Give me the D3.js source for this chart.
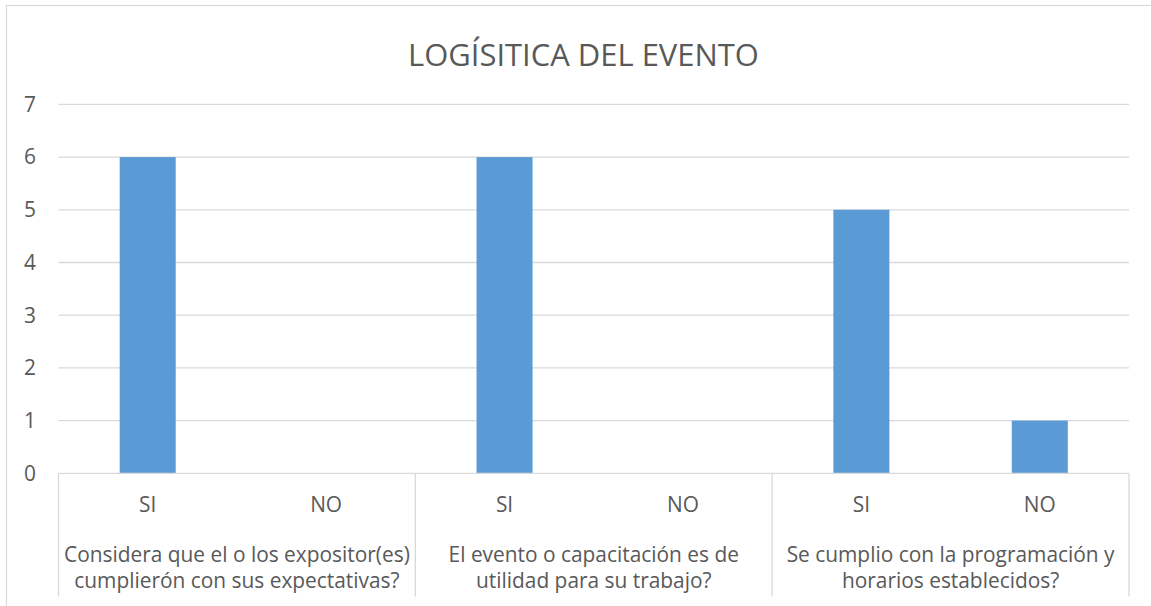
<!DOCTYPE html>
<html><head><meta charset="utf-8">
<script src="https://cdn.jsdelivr.net/npm/d3@7"></script>
<style>body{margin:0;background:#fff}svg{display:block}text{font-family:"Open Sans","Noto Sans",sans-serif;fill:#595959}</style>
</head><body>
<svg id="c" width="1151" height="606"></svg>
<script>
const title = "LOGÍSITICA DEL EVENTO";
const groups = [
  ["Considera que el o los expositor(es)", "cumplierón con sus expectativas?"],
  ["El evento o capacitación es de", "utilidad para su trabajo?"],
  ["Se cumplio con la programación y", "horarios establecidos?"]
];
const answers = ["SI", "NO"];
const values = [[6, 0], [6, 0], [5, 1]];
const yTicks = [0, 1, 2, 3, 4, 5, 6, 7];

const svg = d3.select("#c");
const L = 58.5, R = 1129, T = 104.4, B = 473.3;

// chart border
svg.append("rect").attr("x", 6.5).attr("y", 5.5).attr("width", 1160).attr("height", 620)
  .attr("fill", "none").attr("stroke", "#d9d9d9").attr("stroke-width", 1.2);

const cats = [];
values.forEach((g, gi) => g.forEach((v, ai) => cats.push({g: gi, a: ai, key: gi + "-" + ai, v})));

const x = d3.scaleBand().domain(cats.map(d => d.key)).range([L, R]).padding(0);
const y = d3.scaleLinear().domain([0, 7]).range([B, T]);

// measure helper
function fitSize(str, target) {
  const t = svg.append("text").attr("font-size", 100).text(str);
  const w = t.node().getComputedTextLength();
  t.remove();
  return 100 * target / w;
}
const fs = fitSize(groups[0][0], 346);
const tfs = fitSize(title, 351);

// gridlines
svg.append("g").selectAll("line").data(yTicks.filter(d => d > 0)).join("line")
  .attr("x1", L).attr("x2", R).attr("y1", d => y(d)).attr("y2", d => y(d))
  .attr("stroke", "#d9d9d9").attr("stroke-width", 1.3);

// y labels
svg.append("g").selectAll("text").data(yTicks).join("text")
  .attr("x", 36).attr("y", d => y(d)).attr("dy", "0.35em")
  .attr("text-anchor", "end").attr("font-size", fs).text(d => d);

// bars
const bw = x.bandwidth() * 0.314;
svg.append("g").selectAll("rect").data(cats.filter(d => d.v > 0)).join("rect")
  .attr("x", d => x(d.key) + x.bandwidth() / 2 - bw / 2)
  .attr("width", bw)
  .attr("y", d => y(d.v)).attr("height", d => y(0) - y(d.v))
  .attr("fill", "#5b9bd5");

// axis line
svg.append("line").attr("x1", L).attr("x2", R).attr("y1", B).attr("y2", B)
  .attr("stroke", "#d9d9d9").attr("stroke-width", 1.3);

// group separators
const gw = (R - L) / groups.length;
const seps = d3.range(groups.length + 1).map(i => L + i * gw);
svg.append("g").selectAll("line").data(seps).join("line")
  .attr("x1", d => d).attr("x2", d => d).attr("y1", B).attr("y2", 596.5)
  .attr("stroke", "#d9d9d9").attr("stroke-width", 1.3);

// answer labels
svg.append("g").selectAll("text").data(cats).join("text")
  .attr("x", d => x(d.key) + x.bandwidth() / 2).attr("y", 511.5)
  .attr("text-anchor", "middle").attr("font-size", fs).text(d => answers[d.a]);

// group labels
const gl = svg.append("g").selectAll("text").data(groups).join("text")
  .attr("text-anchor", "middle").attr("font-size", fs);
gl.selectAll("tspan").data((d, i) => d.map(s => ({s, i}))).join("tspan")
  .attr("x", d => L + (d.i + 0.5) * gw)
  .attr("y", (d, j) => 561.5 + j * 26.5)
  .text(d => d.s);

// title
svg.append("text").attr("x", 583.5).attr("y", 66).attr("text-anchor", "middle")
  .attr("font-size", tfs).text(title);
</script>
</body></html>
